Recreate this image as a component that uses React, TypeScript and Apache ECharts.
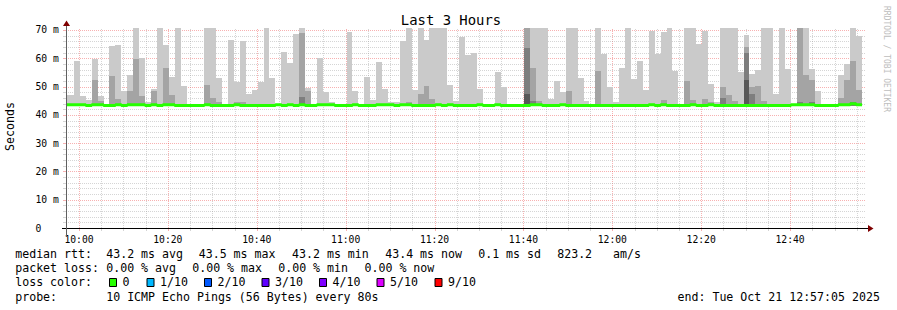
import React, { useEffect, useRef } from "react";
import * as echarts from "echarts";

// ---------- data ----------
// window: 09:57:05 .. 12:57:05 (minutes of the day)
const windowStartMin = 9 * 60 + 57 + 5 / 60;
const windowMinutes = 180;
const stepSeconds = 80;
const firstStepStartSec = -53; // the first (partial) step begins before the window

// x-axis labels (minutes of the day) and grid
const xLabelMinutes = [600, 620, 640, 660, 680, 700, 720, 740, 760];
const xMinorMinutes = [605, 610, 615, 625, 630, 635, 645, 650, 655, 665, 670, 675, 685, 690, 695, 705, 710, 715, 725, 730, 735, 745, 750, 755, 765, 770, 775];
const yMajor = [10, 20, 30, 40, 50, 60, 70];
const yMinor = [2, 4, 6, 8, 12, 14, 16, 18, 22, 24, 26, 28, 32, 34, 36, 38, 42, 44, 46, 48, 52, 54, 56, 58, 62, 64, 66, 68];
const yMax = 70.7;

// highest of the 10 pings per step (ms)
const maxRtt = [
  47.0, 47.0, 59.1, 46.7, 45.2, 59.9, 46.6, 43.6, 64.5, 64.7,
  48.4, 54.2, 70.7, 60.1, 44.5, 49.1, 70.7, 64.7, 53.5, 70.7,
  50.2, 43.6, 43.6, 43.6, 70.7, 70.7, 53.1, 44.0, 66.6, 51.6,
  66.1, 47.4, 48.8, 51.6, 70.7, 53.0, 43.6, 62.2, 58.3, 68.6,
  70.7, 49.5, 43.6, 60.1, 48.0, 44.5, 43.6, 43.6, 69.3, 48.4,
  43.6, 53.5, 45.2, 58.7, 49.1, 44.5, 44.5, 66.0, 70.7, 48.8,
  70.7, 66.6, 70.7, 70.7, 70.7, 50.5, 44.9, 67.5, 61.2, 62.0,
  49.1, 43.9, 43.6, 55.0, 50.0, 43.7, 43.9, 43.9, 70.7, 70.7,
  70.7, 70.7, 45.6, 52.0, 48.1, 70.7, 70.7, 53.0, 44.9, 43.6,
  70.7, 61.5, 50.0, 44.5, 56.6, 70.7, 52.8, 59.0, 48.8, 69.6,
  61.6, 69.3, 70.7, 55.5, 43.6, 70.7, 70.7, 65.0, 69.6, 50.9,
  44.5, 70.7, 70.7, 70.7, 55.1, 68.2, 54.4, 55.8, 70.7, 70.7,
  47.4, 70.7, 56.2, 43.6, 70.7, 70.7, 56.2, 48.4, 43.7, 43.6,
  43.6, 54.1, 58.0, 70.7, 67.9,
];

// 2nd highest ping, [step, ms]
const ping9: [number, number][] = [
  [5, 52.3], [6, 45.0], [8, 53.9], [9, 45.6], [11, 48.4], [12, 59.9], [13, 46.6], [15, 48.4],
  [16, 43.9], [17, 56.6], [18, 47.0], [24, 50.5], [25, 46.0], [26, 44.5], [28, 44.0], [29, 44.5],
  [30, 44.5], [40, 68.9], [41, 48.4], [51, 44.0], [58, 44.5], [60, 47.4], [61, 50.2], [62, 45.6],
  [78, 70.7], [79, 56.6], [80, 44.9], [85, 48.4], [86, 44.0], [90, 55.5], [91, 44.0], [100, 44.0],
  [101, 45.2], [102, 44.0], [105, 52.0], [106, 45.2], [107, 44.0], [108, 45.6], [109, 44.5],
  [111, 49.8], [112, 47.0], [113, 44.9], [114, 44.0], [115, 64.0], [116, 49.8], [117, 50.2],
  [118, 44.9], [124, 70.7], [125, 54.1], [126, 52.3], [131, 46.0], [132, 52.3], [133, 59.0], [134, 48.8],
];
// 3rd highest ping
const ping8: [number, number][] = [
  [40, 46.4], [41, 44.0], [78, 63.6], [79, 45.0], [111, 46.0], [115, 61.9], [116, 47.4],
  [124, 44.5], [126, 44.5], [133, 44.5],
];
// 4th highest ping
const ping7: [number, number][] = [[78, 47.4], [115, 52.3]];

// median rtt per step (ms)
const medianRtt = [
  43.6, 43.6, 43.6, 43.6, 43.3, 43.6, 43.6, 43.3, 43.3, 43.6,
  43.3, 43.6, 43.6, 43.6, 43.3, 43.6, 43.3, 43.6, 43.6, 43.3,
  43.3, 43.3, 43.3, 43.3, 43.6, 43.3, 43.3, 43.3, 43.3, 43.6,
  43.3, 43.3, 43.3, 43.3, 43.3, 43.3, 43.6, 43.3, 43.6, 43.3,
  43.6, 43.3, 43.3, 43.6, 43.6, 43.6, 43.3, 43.3, 43.3, 43.6,
  43.3, 43.3, 43.3, 43.6, 43.6, 43.6, 43.3, 43.6, 43.6, 43.3,
  43.3, 43.3, 43.3, 43.6, 43.3, 43.6, 43.3, 43.3, 43.3, 43.3,
  43.6, 43.3, 43.3, 43.6, 43.3, 43.3, 43.3, 43.3, 43.3, 43.6,
  43.6, 43.3, 43.3, 43.3, 43.6, 43.3, 43.3, 43.3, 43.3, 43.3,
  43.3, 43.3, 43.3, 43.3, 43.3, 43.3, 43.3, 43.3, 43.3, 43.6,
  43.3, 43.6, 43.3, 43.3, 43.3, 43.3, 43.6, 43.3, 43.3, 43.6,
  43.3, 43.3, 43.3, 43.3, 43.3, 43.3, 43.3, 43.3, 43.3, 43.3,
  43.3, 43.3, 43.3, 43.6, 43.6, 43.6, 43.6, 43.3, 43.3, 43.3,
  43.3, 43.6, 43.6, 43.9, 43.6,
];
const smokeBase = 43.1; // lowest pings sit just under the median line

// legend
const statsRow1: [number, string][] = [
  [16, "median rtt:"], [107, "43.2 ms avg"], [199.5, "43.5 ms max"], [292.8, "43.2 ms min"],
  [386, "43.4 ms now"], [479, "0.1 ms sd"], [558, "823.2   am/s"],
];
const statsRow2: [number, string][] = [
  [16, "packet loss:"], [107, "0.00 % avg"], [193, "0.00 % max"], [279, "0.00 % min"], [365.3, "0.00 % now"],
];
const lossLabels = ["0", "1/10", "2/10", "3/10", "4/10", "5/10", "9/10"];
const lossColors = ["#26ff00", "#00b8ff", "#0059ff", "#5e00ff", "#7e00ff", "#dd00ff", "#ff0000"];
const lossBoxX = [109, 146.5, 204, 261.5, 319, 376.5, 434.5];
const probeText = "10 ICMP Echo Pings (56 Bytes) every 80s";
const endText = "end: Tue Oct 21 12:57:05 2025";

// ---------- styling ----------
const MONO = "'DejaVu Sans Mono', monospace";
const smokeColors = ["#cacaca", "#a4a4a4", "#7e7e7e", "#585858"];
const GRID = "rgba(150,150,150,0.4)";
const MGRID = "rgba(235,60,60,0.4)";
const ARROW = "#7f0000";

function sparse(pairs: [number, number][]) {
  const out = maxRtt.map(() => smokeBase);
  pairs.forEach(([s, v]) => (out[s] = v));
  return out;
}

function hhmm(v: number) {
  const h = Math.floor(v / 60);
  const m = Math.round(v - h * 60);
  return `${h < 10 ? "0" : ""}${h}:${m < 10 ? "0" : ""}${m}`;
}

export default function App() {
  const ref = useRef<HTMLDivElement>(null);

  useEffect(() => {
    if (!ref.current) return;
    const chart = echarts.init(ref.current, undefined, { renderer: "svg" });

    const p9 = sparse(ping9);
    const p8 = sparse(ping8);
    const p7 = sparse(ping7);
    const stepStart = (s: number) => windowStartMin + (firstStepStartSec + s * stepSeconds) / 60;
    const smokeData = maxRtt.map((v, s) => [stepStart(s), stepStart(s + 1), v, p9[s], p8[s], p7[s]]);
    const medianData: number[][] = medianRtt.map((m, s) => [Math.max(stepStart(s), windowStartMin), m]);
    medianData.push([stepStart(medianRtt.length), medianRtt[medianRtt.length - 1]]);

    const vGrid = [
      ...xMinorMinutes.map((t) => [t, 0]),
      ...xLabelMinutes.map((t) => [t, 1]),
    ];
    const hGrid = [...yMinor.map((v) => [v, 0]), ...yMajor.map((v) => [v, 1])];
    const windowEnd = windowStartMin + windowMinutes;

    const legendText: any[] = [];
    const addText = (x: number, y: number, text: string) =>
      legendText.push({
        type: "text", x, y,
        style: { text, font: `11.6px ${MONO}`, fill: "#000", textVerticalAlign: "middle" },
      });
    statsRow1.forEach(([x, t]) => addText(x - 0.8, 254.3, t));
    statsRow2.forEach(([x, t]) => addText(x - 0.8, 268.3, t));
    addText(15.2, 282.3, "loss color:");
    lossLabels.forEach((l, i) => {
      legendText.push({
        type: "rect",
        shape: { x: lossBoxX[i] + 0.5, y: 278.5, width: 7, height: 8 },
        style: { fill: lossColors[i], stroke: "#000", lineWidth: 1 },
      });
      addText(lossBoxX[i] + 13.5, 282.3, l);
    });
    addText(15.2, 296.7, "probe:");
    addText(106.2, 296.7, probeText);
    addText(677.5, 296.7, endText);

    chart.setOption({
      animation: false,
      backgroundColor: "#ffffff",
      grid: { left: 66, top: 28, width: 800, height: 200, containLabel: false },
      xAxis: {
        type: "value",
        min: windowStartMin,
        max: windowEnd,
        axisLine: { show: false },
        axisTick: { show: false, customValues: xLabelMinutes },
        splitLine: { show: false },
        axisLabel: {
          customValues: xLabelMinutes,
          formatter: (v: number) => hhmm(v),
          color: "#000",
          fontFamily: MONO,
          fontSize: 9.7,
          margin: 6,
        },
      },
      yAxis: {
        type: "value",
        min: 0,
        max: yMax,
        interval: 10,
        axisLine: { show: false },
        axisTick: { show: false },
        splitLine: { show: false },
        axisLabel: {
          formatter: (v: number) => (v === 0 ? "0" : Math.abs(v % 10) < 1e-6 ? `${v} m` : ""),
          color: "#000",
          fontFamily: MONO,
          fontSize: 9.7,
          align: "left",
          margin: 30.6,
          showMaxLabel: false,
        },
      },
      series: [
        {
          type: "custom",
          name: "vgrid",
          z: 1,
          silent: true,
          data: vGrid,
          encode: { x: 0 },
          renderItem: (params: any, api: any) => {
            const t = api.value(0);
            const major = api.value(1) === 1;
            const top = api.coord([t, yMax]);
            const bot = api.coord([t, 0]);
            const x = Math.round(top[0]) + 0.5;
            const color = major ? MGRID : GRID;
            return {
              type: "group",
              children: [
                { type: "line", shape: { x1: x, y1: Math.round(bot[1]), x2: x, y2: Math.round(top[1]) }, style: { stroke: color, lineWidth: 1, lineDash: [1, 1] } },
                { type: "line", shape: { x1: x, y1: Math.round(bot[1]) + 1, x2: x, y2: Math.round(bot[1]) + 3 }, style: { stroke: color, lineWidth: 1 } },
              ],
            };
          },
        },
        {
          type: "custom",
          name: "hgrid",
          z: 1,
          silent: true,
          data: hGrid,
          encode: { y: 0 },
          renderItem: (params: any, api: any) => {
            const v = api.value(0);
            const major = api.value(1) === 1;
            const l = api.coord([windowStartMin, v]);
            const r = api.coord([windowEnd, v]);
            const y = Math.round(l[1]) + 0.5;
            const color = major ? MGRID : GRID;
            return {
              type: "group",
              children: [
                { type: "line", shape: { x1: Math.round(l[0]), y1: y, x2: Math.round(r[0]), y2: y }, style: { stroke: color, lineWidth: 1, lineDash: [1, 1] } },
                { type: "line", shape: { x1: Math.round(l[0]) - 3, y1: y, x2: Math.round(l[0]), y2: y }, style: { stroke: color, lineWidth: 1 } },
              ],
            };
          },
        },
        {
          type: "custom",
          name: "smoke",
          z: 2,
          silent: true,
          data: smokeData,
          encode: { x: [0, 1], y: [2, 3, 4, 5] },
          renderItem: (params: any, api: any) => {
            const t0 = Math.max(api.value(0), windowStartMin);
            const t1 = Math.min(api.value(1), windowEnd);
            const children: any[] = [];
            for (let i = 0; i < 4; i++) {
              const top = api.value(2 + i);
              if (top <= smokeBase + 0.05) continue;
              const a = api.coord([t0, top]);
              const b = api.coord([t1, smokeBase]);
              const x0 = Math.round(a[0]);
              const x1 = Math.round(b[0]);
              const y0 = Math.round(a[1]);
              const y1 = Math.round(b[1]);
              children.push({
                type: "rect",
                shape: { x: x0, y: y0, width: x1 - x0, height: y1 - y0 },
                style: { fill: smokeColors[i] },
              });
            }
            return { type: "group", children };
          },
        },
        {
          type: "line",
          name: "median rtt",
          z: 3,
          silent: true,
          step: "end",
          symbol: "none",
          data: medianData,
          lineStyle: { color: "#26ff00", width: 3 },
        },
      ],
      graphic: [
        // axes
        { type: "line", shape: { x1: 62, y1: 228.5, x2: 868, y2: 228.5 }, style: { stroke: "#000", lineWidth: 1 }, z: 10 },
        { type: "line", shape: { x1: 66.5, y1: 25, x2: 66.5, y2: 237 }, style: { stroke: "#606060", lineWidth: 1 }, z: 10 },
        { type: "polygon", shape: { points: [[63, 26], [70, 26], [66.5, 20.5]] }, style: { fill: ARROW }, z: 10 },
        { type: "polygon", shape: { points: [[868, 225], [868, 232], [873.5, 228.5]] }, style: { fill: ARROW }, z: 10 },
        // title
        {
          type: "text", x: 451, y: 19.5,
          style: { text: "Last 3 Hours", font: `13.9px ${MONO}`, fill: "#000", textAlign: "center", textVerticalAlign: "middle" },
        },
        // vertical axis title
        {
          type: "text", x: 10, y: 126.5, rotation: Math.PI / 2,
          style: { text: "Seconds", font: `11.6px ${MONO}`, fill: "#000", textAlign: "center", textVerticalAlign: "middle" },
        },
        // watermark
        {
          type: "text", x: 886.5, y: 59, rotation: -Math.PI / 2,
          style: { text: "RRDTOOL / TOBI OETIKER", font: `8px ${MONO}`, fill: "#bdbdbd", textAlign: "center", textVerticalAlign: "middle" },
        },
        ...legendText,
      ],
    });

    return () => chart.dispose();
  }, []);

  return (
    <div
      ref={ref}
      style={{ position: "absolute", left: 0, top: 0, width: 897, height: 310, background: "#fff" }}
    />
  );
}
